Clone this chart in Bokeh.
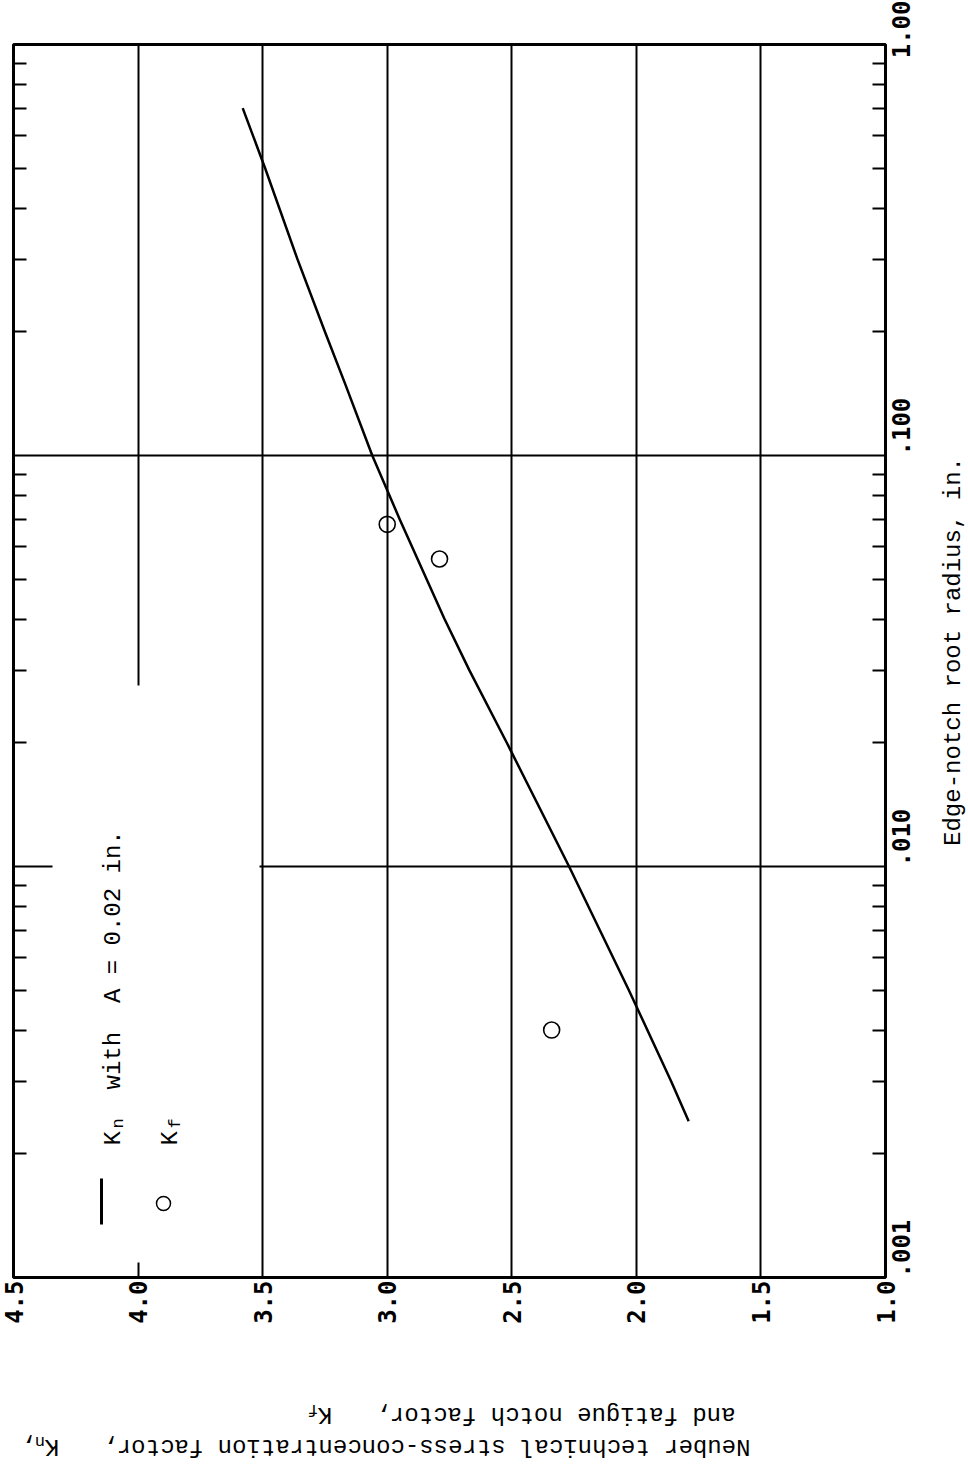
import math
from bokeh.plotting import figure
from bokeh.layouts import column, row
from bokeh.models import Range1d, FixedTicker, LogAxis, NumeralTickFormatter, BoxAnnotation, Label
from bokeh.core.properties import value
from bokeh.embed import file_html
from bokeh.resources import INLINE

# ---------------- data ----------------
radius_curve = [0.70, 0.50, 0.30, 0.20, 0.15, 0.10, 0.07, 0.04, 0.03, 0.02, 0.01, 0.005, 0.003, 0.0024]
kn_curve = [3.58, 3.49, 3.36, 3.25, 3.17, 3.06, 2.95, 2.77, 2.67, 2.52, 2.27, 2.03, 1.86, 1.79]
radius_kf = [0.068, 0.056, 0.004]
kf_points = [3.00, 2.79, 2.34]
k_ticks = [1.0, 1.5, 2.0, 2.5, 3.0, 3.5, 4.0, 4.5]
k_grid = [1.5, 2.0, 2.5, 3.0, 3.5, 4.0]
r_ticks = [0.001, 0.01, 0.1, 1.0]
r_tick_labels = [".001", ".010", ".100", "1.00"]
r_grid = [0.01, 0.1]

x_title = "Edge-notch root radius, in."
y_title_1 = "Neuber technical stress-concentration factor,\u00a0\u00a0\u00a0K"
y_title_2 = "and fatigue notch factor,\u00a0\u00a0\u00a0K"
legend_rest = "with\u00a0\u00a0A = 0.02 in."

# ---------------- layout ----------------
FRAME_W, FRAME_H = 872, 1233
PAGE_L, PAGE_T = 13, 44
BORDER_R, BORDER_B = 46, 50
MAIN_W = PAGE_L + FRAME_W + BORDER_R
MAIN_H = PAGE_T + FRAME_H + BORDER_B
STRIP_W = 966 - MAIN_W
BOTTOM_H = 145
K_LEFT, K_RIGHT = 4.5, 1.0
LOG_TOP, LOG_BOT = 0.0, -3.0
MONO = "Liberation Mono"
BOLD_MONO = "DejaVu Sans Mono"


def at(px, py):
    """page pixel position -> data position of the main plot (annotations only)"""
    k = K_LEFT + (K_RIGHT - K_LEFT) * (px - PAGE_L) / FRAME_W
    r = 10 ** (LOG_TOP + (LOG_BOT - LOG_TOP) * (py - PAGE_T) / FRAME_H)
    return k, r


p = figure(frame_width=FRAME_W, frame_height=FRAME_H,
           x_range=Range1d(K_LEFT, K_RIGHT), y_range=Range1d(0.001, 1.0),
           y_axis_type="log", y_axis_location="right",
           output_backend="svg", toolbar_location=None,
           min_border_left=PAGE_L, min_border_top=PAGE_T,
           min_border_right=BORDER_R, min_border_bottom=BORDER_B)
p.background_fill_color = "white"
p.border_fill_color = "white"
p.outline_line_color = "black"
p.outline_line_width = 3

minors = [m * 10 ** e for e in (-3, -2, -1) for m in range(2, 10)]

# bottom axis (K values)
xa = p.xaxis[0]
xa.ticker = FixedTicker(ticks=k_ticks)
xa.formatter = NumeralTickFormatter(format="0.0")
xa.major_label_orientation = math.pi / 2
xa.major_tick_in = 0
xa.major_tick_out = 0
xa.minor_tick_in = 0
xa.minor_tick_out = 0
xa.axis_line_color = None
xa.major_label_standoff = 3
xa.major_label_text_font = BOLD_MONO
xa.major_label_text_font_style = "bold"
xa.major_label_text_font_size = "24px"
xa.major_label_text_color = "black"

# right axis (radius)
ya = p.yaxis[0]
ya.ticker = FixedTicker(ticks=r_ticks, minor_ticks=minors)
ya.major_label_overrides = {t: s for t, s in zip(r_ticks, r_tick_labels)}
ya.major_tick_in = 0
ya.major_tick_out = 0
ya.minor_tick_in = 13
ya.minor_tick_out = 0
ya.minor_tick_line_width = 2
ya.minor_tick_line_color = "black"
ya.axis_line_color = None
ya.major_label_orientation = math.pi / 2
ya.major_label_standoff = 15
ya.major_label_text_font = BOLD_MONO
ya.major_label_text_font_style = "bold"
ya.major_label_text_font_size = "24px"
ya.major_label_text_color = "black"

# left axis: minor ticks only
la = LogAxis(ticker=FixedTicker(ticks=[], minor_ticks=minors),
             major_label_text_font_size="0px", major_label_standoff=0,
             axis_line_color=None, major_tick_in=0, major_tick_out=0,
             minor_tick_in=13, minor_tick_out=0, minor_tick_line_width=2,
             minor_tick_line_color="black")
p.add_layout(la, "left")

# grids
p.xgrid.ticker = FixedTicker(ticks=k_grid)
p.ygrid.ticker = FixedTicker(ticks=r_grid)
for g in (p.xgrid, p.ygrid):
    g.grid_line_color = "black"
    g.grid_line_width = 2
    g.grid_line_alpha = 1.0

# blank area behind the legend (grid interrupted there)
bk1, br1 = at(52, 685)
bk2, br2 = at(259, 1262)
p.add_layout(BoxAnnotation(left=bk1, right=bk2, top=br1, bottom=br2,
                           fill_color="white", fill_alpha=1.0, line_alpha=0,
                           level="underlay"))

# data
p.line(x=kn_curve, y=radius_curve, line_color="black", line_width=2.5, line_join="round")
p.scatter(x=kf_points, y=radius_kf, marker="circle", size=16,
          fill_color=None, line_color="black", line_width=1.6)

# ---------------- legend (rotated) ----------------
lk0, lr0 = at(101, 1178)
lk1, lr1 = at(101, 1224)
p.segment(x0=[lk0], y0=[lr0], x1=[lk1], y1=[lr1], line_color="black", line_width=3)
ck, cr = at(163, 1203)
p.scatter(x=[ck], y=[cr], marker="circle", size=14, fill_color=None,
          line_color="black", line_width=1.5)


def add_label(px, py, text, size="24px"):
    k, r = at(px, py)
    p.add_layout(Label(x=k, y=r, text=text, angle=math.pi / 2, text_align="left",
                       text_baseline="alphabetic", text_font=MONO,
                       text_font_size=size, text_color="black"))


add_label(113, 1145, "K")
add_label(118, 1128, "n", size="17px")
add_label(113, 1089, legend_rest)
add_label(170, 1145, "K")
add_label(175, 1128, "f", size="17px")

# ---------------- right strip: x-axis title (reads bottom to top) ----------------
pr = figure(frame_width=STRIP_W, frame_height=FRAME_H,
            x_range=Range1d(MAIN_W, MAIN_W + STRIP_W), y_range=p.y_range,
            y_axis_type="log", x_axis_location=None, y_axis_location=None,
            output_backend="svg", toolbar_location=None,
            min_border_left=0, min_border_right=0,
            min_border_top=PAGE_T, min_border_bottom=BORDER_B)
pr.outline_line_color = None
pr.grid.visible = False
pr.background_fill_color = "white"
pr.border_fill_color = "white"
_, r_mid = at(0, 651)
pr.text(x=[953], y=[r_mid], text=[x_title], angle=math.pi / 2,
        text_align="center", text_baseline="alphabetic",
        text_font=value(MONO), text_font_size="24px", text_color="black")

# ---------------- bottom strip: y-axis title (upside down) ----------------
pb = figure(frame_width=MAIN_W + STRIP_W, frame_height=BOTTOM_H,
            x_range=Range1d(0, MAIN_W + STRIP_W), y_range=Range1d(MAIN_H + BOTTOM_H, MAIN_H),
            x_axis_location=None, y_axis_location=None,
            output_backend="svg", toolbar_location=None, min_border=0)
pb.outline_line_color = None
pb.grid.visible = False
pb.background_fill_color = "white"
pb.border_fill_color = "white"


def add_flip(px, py, text, size="24px"):
    pb.text(x=[px], y=[py], text=[text], angle=math.pi, text_align="left",
            text_baseline="alphabetic", text_font=value(MONO),
            text_font_size=size, text_color="black")


CH = 14.4
SUB = 10.2
x1_end = 750 - len(y_title_1) * CH
add_flip(750, 1446, y_title_1)
add_flip(x1_end, 1441, "n", size="17px")
add_flip(x1_end - SUB, 1446, ",")
x2_end = 735 - len(y_title_2) * CH
add_flip(735, 1414, y_title_2)
add_flip(x2_end, 1409, "f", size="17px")

layout = column(row(p, pr), pb)
open("out.html", "w").write(file_html(layout, INLINE))
